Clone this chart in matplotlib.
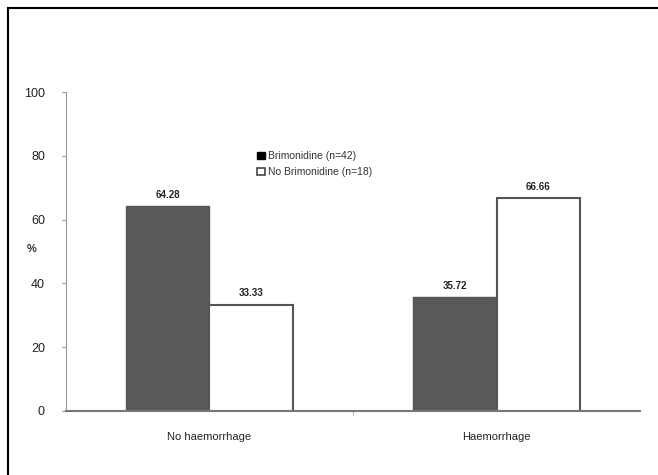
import matplotlib
matplotlib.use("Agg")
import matplotlib.pyplot as plt
import numpy as np
from matplotlib.lines import Line2D
from matplotlib.patches import Patch

categories = ["No haemorrhage", "Haemorrhage"]
brimonidine = [64.28, 35.72]
no_brimonidine = [33.33, 66.66]
series_labels = ["Brimonidine (n=42)", "No Brimonidine (n=18)"]
yticks = [0, 20, 40, 60, 80, 100]

plt.rcParams['font.family'] = ['Liberation Sans', 'DejaVu Sans']

fig = plt.figure(figsize=(6.58, 4.75), dpi=100)
ax = fig.add_axes([0.100, 0.135, 0.873, 0.671])

x = np.arange(len(categories))
w = 0.29
dark = "#595959"
ax.bar(x - w/2, brimonidine, width=w, color=dark, edgecolor="#555555", linewidth=1.0)
ax.bar(x + w/2, no_brimonidine, width=w, color="white", edgecolor="#555555", linewidth=1.5)

for xi, v in zip(x - w/2, brimonidine):
    ax.text(xi, v + 2, f"{v:.2f}", ha="center", va="bottom", fontsize=7, fontweight="bold", color="#222222")
for xi, v in zip(x + w/2, no_brimonidine):
    ax.text(xi, v + 2, f"{v:.2f}", ha="center", va="bottom", fontsize=7, fontweight="bold", color="#222222")

ax.set_xlim(-0.5, 1.5)
ax.set_ylim(0, 100)
ax.set_yticks(yticks)
ax.set_yticklabels([str(t) for t in yticks], fontsize=9, color="#222222")
ax.set_xticks(x)
ax.set_xticklabels(categories, fontsize=8, color="#222222")
ax.tick_params(axis="x", length=0, pad=15)
ax.tick_params(axis="y", length=3, color="#999999", pad=12, direction="out")
ax.set_xticks([0.5], minor=True)
ax.tick_params(axis="x", which="minor", length=3, color="#999999")
for s in ["top", "right"]:
    ax.spines[s].set_visible(False)
ax.spines["left"].set_color("#999999")
ax.spines["bottom"].set_color("#777777")
ax.spines["bottom"].set_linewidth(1.5)

fig.text(0.048, 0.476, "%", fontsize=8, fontweight="bold", color="#333333", ha="center", va="center")

handles = [Patch(facecolor="black", edgecolor="black"),
           Patch(facecolor="white", edgecolor="#444444", linewidth=1.2)]
leg = fig.legend(handles, series_labels, loc="upper left", bbox_to_anchor=(0.385, 0.690),
                 frameon=False, fontsize=7.5, handlelength=0.7, handleheight=0.7,
                 handletextpad=0.3, labelspacing=0.55, borderaxespad=0)
for t in leg.get_texts():
    t.set_color("#333333")

fig.add_artist(Line2D([0.012, 0.012], [0.0, 0.983], transform=fig.transFigure, color="black", linewidth=1.5))
fig.add_artist(Line2D([0.012, 1.0], [0.983, 0.983], transform=fig.transFigure, color="black", linewidth=1.5))

fig.savefig("out.png", dpi=100)
